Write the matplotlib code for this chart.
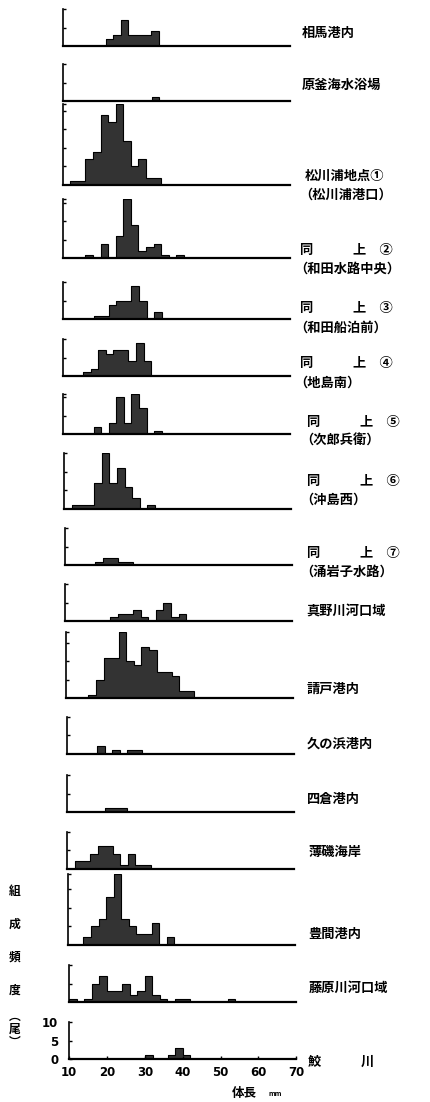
import matplotlib
matplotlib.use("Agg")
import matplotlib.pyplot as plt
import numpy as np

plt.rcParams['font.family'] = ['Noto Sans CJK JP', 'DejaVu Sans']

W, H, DPI = 430, 1102, 100

# station names (right side), second line where there is one
stations = ["相馬港内", "原釜海水浴場", "松川浦地点①", "同　　　上　②", "同　　　上　③",
            "同　　　上　④", "同　　　上　⑤", "同　　　上　⑥", "同　　　上　⑦",
            "真野川河口域", "請戸港内", "久の浜港内", "四倉港内", "薄磯海岸",
            "豊間港内", "藤原川河口域", "鮫　　　川"]
subnames = ["", "", "（松川浦港口）", "（和田水路中央）", "（和田船泊前）", "（地島南）",
            "（次郎兵衛）", "（沖島西）", "（涌岩子水路）", "", "", "", "", "", "", "", ""]

# lower edge (mm) of the first 2 mm length class drawn in each panel
first_class = [21.4, 33.5, 12, 16, 18, 15.3, 18, 12, 18, 22, 16, 18, 20, 12, 14, 10, 30]

# number of fish per 2 mm class
soma = [2, 3, 7, 3, 3, 3, 4]
haragama = [1]
matsukawa1 = [1, 1, 7, 9, 19, 17, 22, 12, 5, 7, 2, 2]
matsukawa2 = [1, 0, 4, 0, 6, 16, 9, 2, 3, 4, 1, 0, 1]
matsukawa3 = [1, 1, 4, 5, 5, 9, 5, 0, 2]
matsukawa4 = [1, 2, 7, 6, 7, 7, 4, 9, 4]
matsukawa5 = [2, 0, 3, 10, 3, 11, 7, 0, 1]
matsukawa6 = [1, 1, 1, 7, 15, 7, 11, 6, 3, 0, 1]
matsukawa7 = [1, 2, 2, 1, 1]
manogawa = [1, 2, 2, 3, 1, 0, 3, 5, 1, 2]
ukedo = [1, 5, 11, 11, 18, 10, 9, 14, 13, 7, 7, 6, 2, 2]
hisanohama = [2, 0, 1, 0, 1, 1]
yotsukura = [1, 1, 1]
usuiso = [2, 2, 4, 6, 6, 4, 1, 4, 1, 1]
toyoma = [2, 5, 7, 13, 19, 7, 5, 3, 3, 6, 0, 2]
fujiwara = [1, 0, 1, 5, 7, 3, 3, 5, 2, 3, 7, 2, 1, 0, 1, 1, 0, 0, 0, 0, 0, 1]
samegawa = [1, 0, 0, 1, 3, 1]

counts = [soma, haragama, matsukawa1, matsukawa2, matsukawa3, matsukawa4, matsukawa5,
          matsukawa6, matsukawa7, manogawa, ukedo, hisanohama, yotsukura, usuiso,
          toyoma, fujiwara, samegawa]

x_ticks = [10, 20, 30, 40, 50, 60, 70]
y_ticks = [0, 5, 10]

# layout (pixels from top-left), the scan is slightly skewed
base_px = [46, 101, 185, 258.3, 319.3, 376, 434.3, 508.7, 565.3, 621, 698.3,
           753.8, 812, 868.5, 944.7, 1002.3, 1059]
left_px = [62.5, 62.7, 62.7, 62.7, 63.3, 63, 63.3, 64, 64.7, 65, 65.7,
           66.7, 66.7, 67.3, 68.3, 69, 69.3]
label_x = [301.7, 301.7, 305, 300, 300, 300, 306.7, 306.7, 306.7, 306.7, 306.7,
           306.7, 306.7, 308.3, 308.3, 308.3, 308.3]
label_y = [32.7, 85.3, 176, 250, 308.3, 363.3, 421.7, 481, 552.7, 612, 689,
           743.3, 799.3, 851.7, 933.7, 988, 1061.5]
sub_dy = 19
axis_w = 227
ppf = 3.7  # pixels per fish
fill = '#333333'

fig = plt.figure(figsize=(W / DPI, H / DPI), dpi=DPI)


def fx(x):
    return x / W


def fy(y):
    return 1 - y / H


n = len(counts)
for i in range(n):
    c = np.array(counts[i], dtype=float)
    edges = first_class[i] + 2 * np.arange(len(c) + 1)
    top = max(10, int(c.max()))
    ax = fig.add_axes([fx(left_px[i]), fy(base_px[i]), axis_w / W, top * ppf / H])
    ax.stairs(c, edges, fill=True, color=fill, baseline=0)
    ax.stairs(c, edges, color='black', lw=0.8, baseline=0)
    ax.set_xlim(10, 70)
    ax.set_ylim(0, top)
    for s in ['top', 'right']:
        ax.spines[s].set_visible(False)
    ax.spines['bottom'].set_linewidth(1.6)
    ax.spines['left'].set_linewidth(1.2)
    ax.patch.set_visible(False)
    yt = sorted(set(list(range(5, top + 1, 5)) + [top]))
    ax.set_yticks(yt)
    ax.tick_params(axis='y', direction='in', length=2.5, width=1.0, labelleft=False)
    if i == n - 1:
        ax.set_yticks(y_ticks)
        ax.set_yticklabels([str(v) for v in y_ticks], fontsize=8.5, fontweight='bold',
                           family='DejaVu Sans')
        ax.tick_params(axis='y', labelleft=True, pad=8)
        ax.set_xticks(x_ticks)
        ax.set_xticklabels([str(v) for v in x_ticks], fontsize=8.5, fontweight='bold',
                           family='DejaVu Sans')
        ax.tick_params(axis='x', direction='in', length=2.5, width=1.0, pad=5)
    else:
        ax.set_xticks([])

    fig.text(fx(label_x[i]), fy(label_y[i]), stations[i], fontsize=9.5, fontweight='bold',
             ha='left', va='center')
    if subnames[i]:
        fig.text(fx(label_x[i] - 6), fy(label_y[i] + sub_dy), subnames[i], fontsize=9.5,
                 fontweight='bold', ha='left', va='center')

# vertical axis title
fig.text(fx(15), fy(885), "組\n成\n頻\n度", fontsize=8.5, fontweight='bold',
         ha='center', va='top', linespacing=3.0)
fig.text(fx(15), fy(1010), "︵\n尾\n︶", fontsize=8.5, fontweight='bold',
         ha='center', va='top', linespacing=1.0)

# horizontal axis title
fig.text(fx(244), fy(1093), "体長", fontsize=9, fontweight='bold', ha='center', va='center')
fig.text(fx(275), fy(1093), "mm", fontsize=5, fontweight='bold', ha='center', va='center')

fig.savefig("out.png", dpi=DPI)
